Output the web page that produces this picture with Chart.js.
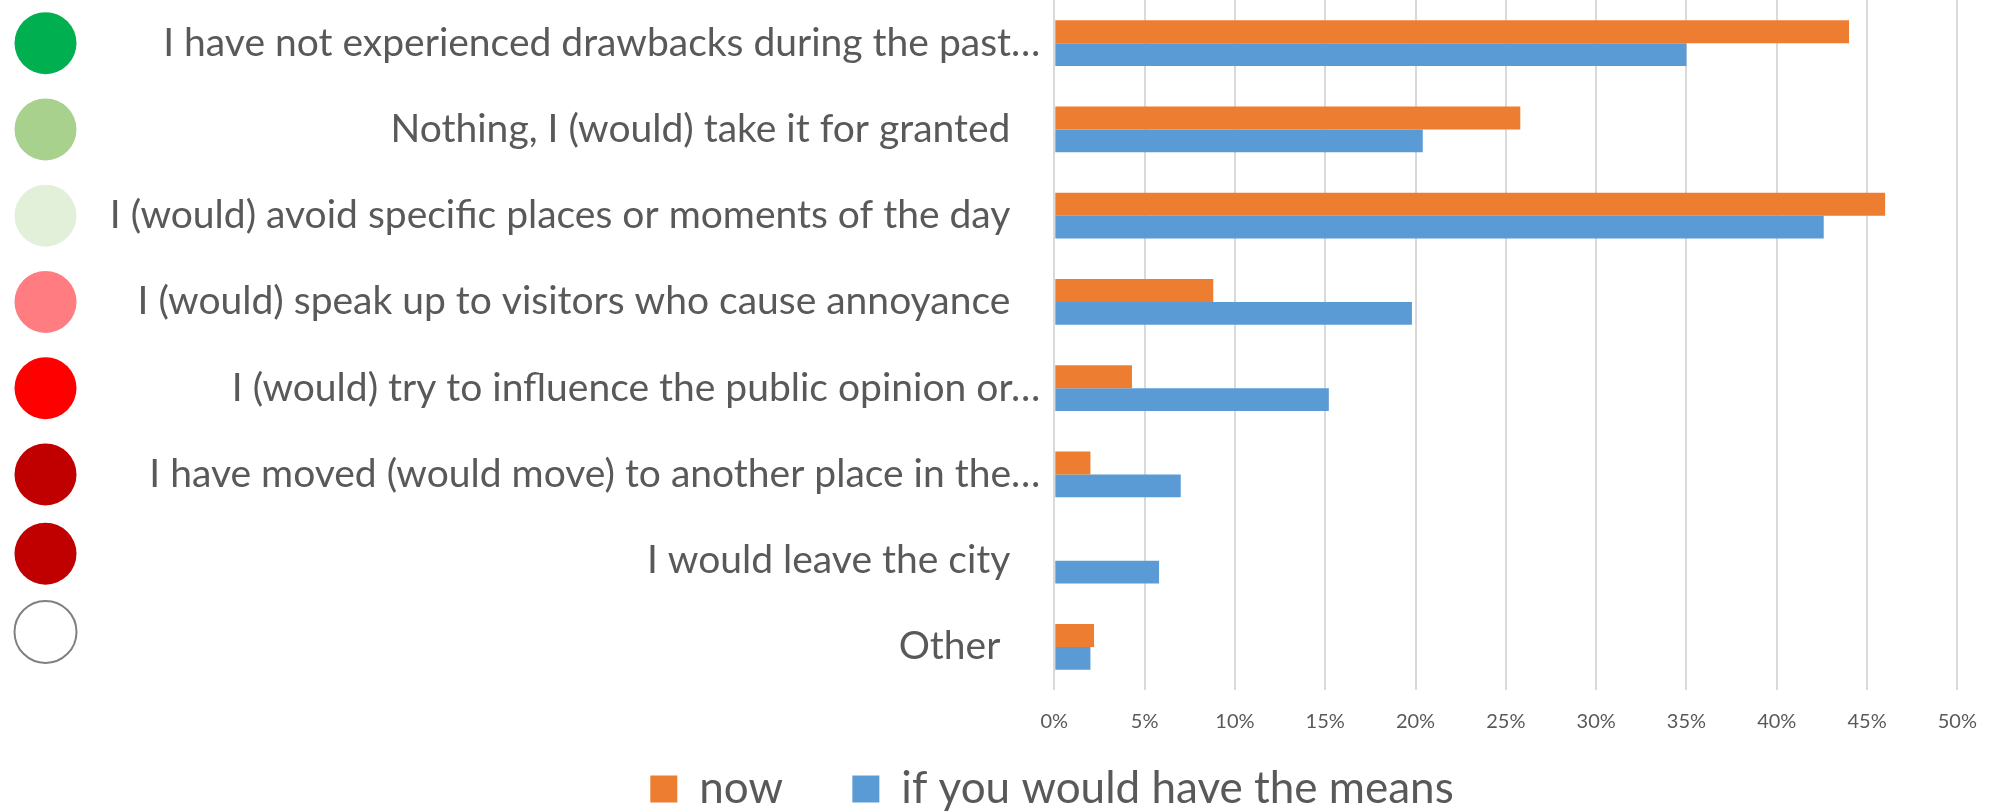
<!DOCTYPE html>
<html>
<head>
<meta charset="utf-8">
<script src="https://cdn.jsdelivr.net/npm/chart.js@4.4.1/dist/chart.umd.min.js"></script>
<style>
  html, body { margin: 0; padding: 0; background: #fff; }
  #wrap { width: 1997px; height: 812px; }
</style>
</head>
<body>
<div id="wrap"><canvas id="barChart"></canvas></div>
<script>
// categories as shown on the axis (long ones cut off like in the original)
const categories = [
  'I have not experienced drawbacks during the past…',
  'Nothing, I (would) take it for granted   ',
  'I (would) avoid specific places or moments of the day   ',
  'I (would) speak up to visitors who cause annoyance   ',
  'I (would) try to influence the public opinion or…',
  'I have moved (would move) to another place in the…',
  'I would leave the city   ',
  'Other    '
];
const nowValues = [44.0, 25.8, 46.0, 8.8, 4.3, 2.0, 0, 2.2];
const meansValues = [35.0, 20.4, 42.6, 19.8, 15.2, 7.0, 5.8, 2.0];
const seriesNames = ['now', 'if you would have the means'];
const tickLabels = ['0%', '5%', '10%', '15%', '20%', '25%', '30%', '35%', '40%', '45%', '50%'];

// traffic light circles left of the labels
const dotColors = ['#00B050', '#A9D18E', '#E2F0D9', '#FF7C80', '#FF0000', '#C00000', '#C00000', '#FFFFFF'];

const textColor = '#595959';
const fontName = 'Lato, "Open Sans", sans-serif';

const dotsPlugin = {
  id: 'dots',
  afterLayout(chart) {
    // let the long category labels run past the left padding (it is only there to centre the legend)
    chart.scales.y.left = 0;
  },
  afterDraw(chart) {
    const ctx = chart.ctx;
    const y = chart.scales.y;
    const nudge = [0, 0, 0, 0, 0, 0, -7, -15];
    dotColors.forEach((c, i) => {
      const cy = y.getPixelForValue(i) + nudge[i];
      ctx.save();
      ctx.beginPath();
      ctx.arc(45.5, cy, 31, 0, Math.PI * 2);
      ctx.fillStyle = c;
      ctx.fill();
      if (c === '#FFFFFF') {
        ctx.lineWidth = 2;
        ctx.strokeStyle = '#808080';
        ctx.stroke();
      }
      ctx.restore();
    });
  }
};

function createBarChart() {
  const ctx = document.getElementById('barChart').getContext('2d');
  new Chart(ctx, {
    type: 'bar',
    data: {
      labels: categories,
      datasets: [{
        label: seriesNames[0],
        data: nowValues,
        backgroundColor: '#ED7D31',
        borderWidth: 0
      }, {
        label: seriesNames[1],
        data: meansValues,
        backgroundColor: '#5B9BD5',
        borderWidth: 0
      }]
    },
    options: {
      indexAxis: 'y',
      responsive: true,
      maintainAspectRatio: false,
      animation: false,
      categoryPercentage: 0.53,
      barPercentage: 1,
      layout: {
        padding: { left: 141, right: 34, top: 0, bottom: -9 }
      },
      scales: {
        x: {
          min: 0,
          max: 50,
          ticks: {
            stepSize: 5,
            padding: 20,
            color: textColor,
            font: { family: fontName, size: 20 },
            callback: (v, i) => tickLabels[i]
          },
          grid: { color: '#D9D9D9', lineWidth: 2, drawTicks: false },
          border: { display: false }
        },
        y: {
          ticks: {
            padding: 14,
            color: textColor,
            font: { family: fontName, size: 39 }
          },
          grid: { display: false, drawTicks: false },
          border: { display: false },
          afterFit(scale) {
            scale.width = 1054.3 - 141;
            scale.paddingTop = 0;
            scale.paddingBottom = 0;
          }
        }
      },
      plugins: {
        legend: {
          position: 'bottom',
          labels: {
            boxWidth: 27,
            boxHeight: 27,
            padding: 13,
            color: textColor,
            font: { family: fontName, size: 44 },
            generateLabels(chart) {
              const items = Chart.defaults.plugins.legend.labels.generateLabels(chart);
              items[0].text += '     ';
              return items;
            }
          }
        },
        tooltip: { enabled: false }
      }
    },
    plugins: [dotsPlugin]
  });
}

createBarChart();
</script>
</body>
</html>
